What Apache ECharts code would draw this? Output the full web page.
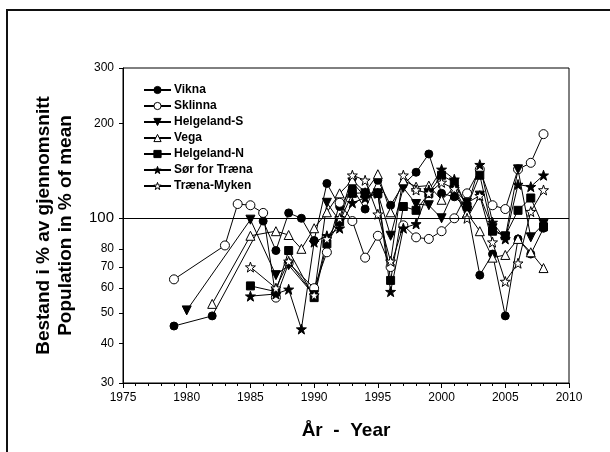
<!DOCTYPE html>
<html>
<head>
<meta charset="utf-8">
<script src="https://cdn.jsdelivr.net/npm/echarts@6/dist/echarts.min.js"></script>
<style>
  html, body { margin: 0; padding: 0; background: #fff; }
  #chart { width: 610px; height: 452px; }
</style>
</head>
<body>
<div id="chart"></div>
<script>
// Seabird colony counts, population in % of the long-term mean per colony
const viknaYears = [1979, 1982, 1986, 1987, 1988, 1989, 1990, 1991, 1992, 1993, 1994, 1995, 1996, 1997, 1998, 1999, 2000, 2001, 2002, 2003, 2004, 2005, 2006, 2007, 2008];
const viknaValues = [45.5, 49, 98, 79, 104, 100, 85, 129, 109, 125, 107, 132, 110, 128, 140, 160, 120, 117, 108, 66, 77, 49, 86, 77, 93];

const sklinnaYears = [1979, 1983, 1984, 1985, 1986, 1987, 1988, 1990, 1991, 1992, 1993, 1994, 1995, 1996, 1997, 1998, 1999, 2000, 2001, 2002, 2003, 2004, 2005, 2006, 2007, 2008];
const sklinnaValues = [64, 82, 111, 110, 104, 56, 72, 60, 78, 112, 98, 75, 88, 70, 95, 87, 86, 91, 100, 120, 143, 110, 107, 143, 150, 185];

const helgelandSYears = [1980, 1985, 1987, 1988, 1990, 1991, 1992, 1993, 1994, 1995, 1996, 1997, 1998, 1999, 2000, 2001, 2002, 2003, 2004, 2005, 2006, 2007, 2008];
const helgelandSValues = [51, 99, 66, 71, 57, 112, 98, 130, 117, 120, 88, 125, 111, 110, 100, 123, 112, 118, 93, 87, 143, 87, 96];

const vegaYears = [1982, 1985, 1987, 1988, 1989, 1990, 1991, 1992, 1993, 1994, 1995, 1996, 1997, 1998, 1999, 2000, 2001, 2002, 2003, 2004, 2005, 2006, 2007, 2008];
const vegaValues = [53.5, 88, 91, 88.5, 80, 93, 104.5, 120, 132, 121, 138, 104.5, 132, 126, 127, 114.5, 125, 104, 91, 75, 76.5, 86, 78, 69.5];

const helgelandNYears = [1985, 1987, 1988, 1990, 1991, 1992, 1993, 1994, 1995, 1996, 1997, 1998, 1999, 2000, 2001, 2002, 2003, 2004, 2005, 2006, 2007, 2008];
const helgelandNValues = [61, 58.5, 79, 56, 83, 97.5, 120, 120.5, 120, 63.5, 109, 106, 120, 137, 130, 109, 137, 91, 88, 106, 116, 94];

const sorTraenaYears = [1985, 1987, 1988, 1989, 1990, 1991, 1992, 1993, 1994, 1995, 1996, 1997, 1998, 1999, 2000, 2001, 2002, 2003, 2004, 2005, 2006, 2007, 2008];
const sorTraenaValues = [56.6, 57.5, 59.5, 44.5, 84, 88, 93, 112, 116, 120, 58.5, 93, 96, 123, 143, 133, 108, 148, 97, 86, 128, 126, 137];

const traenaMykenYears = [1985, 1987, 1988, 1990, 1991, 1992, 1993, 1994, 1995, 1996, 1997, 1998, 1999, 2000, 2001, 2002, 2003, 2004, 2005, 2006, 2007, 2008];
const traenaMykenValues = [70, 60, 73, 57, 86, 100, 137, 132, 103, 73, 137, 123, 120, 130, 124, 100, 118, 84, 63, 72, 105, 123];

const yTickValues = [30, 40, 50, 60, 70, 80, 100, 200, 300];
const referenceLevel = 100;

const starPath = 'path://M0,-10 L2.35,-3.24 L9.51,-3.09 L3.8,1.24 L5.88,8.09 L0,4 L-5.88,8.09 L-3.8,1.24 L-9.51,-3.09 L-2.35,-3.24 Z';

function pairs(years, values) {
  return years.map((y, i) => [y, values[i]]);
}

function lineSeries(name, years, values, symbol, size, filled, rotate) {
  return {
    name: name,
    type: 'line',
    data: pairs(years, values),
    symbol: symbol,
    symbolSize: size,
    symbolRotate: rotate || 0,
    showAllSymbol: true,
    lineStyle: { color: '#000', width: 1 },
    itemStyle: { color: filled ? '#000' : '#fff', borderColor: '#000', borderWidth: 1, opacity: 1 },
    emphasis: { disabled: true },
    animation: false
  };
}

const series = [
  lineSeries('Vikna', viknaYears, viknaValues, 'circle', 8, true),
  lineSeries('Sklinna', sklinnaYears, sklinnaValues, 'circle', 9, false),
  lineSeries('Helgeland-S', helgelandSYears, helgelandSValues, 'triangle', 9, true, 180),
  lineSeries('Vega', vegaYears, vegaValues, 'triangle', 9, false),
  lineSeries('Helgeland-N', helgelandNYears, helgelandNValues, 'rect', 8, true),
  lineSeries('Sør for Træna', sorTraenaYears, sorTraenaValues, starPath, 10, true),
  lineSeries('Træna-Myken', traenaMykenYears, traenaMykenValues, starPath, 10, false)
];

// horizontal reference line at the mean
series[0].markLine = {
  silent: true,
  symbol: ['none', 'none'],
  label: { show: false },
  lineStyle: { color: '#000', width: 1, type: 'solid' },
  data: [{ yAxis: referenceLevel }],
  animation: false
};

const chart = echarts.init(document.getElementById('chart'), null, { renderer: 'canvas' });

chart.setOption({
  backgroundColor: '#fff',
  animation: false,
  textStyle: { fontFamily: 'Liberation Sans, Arial, sans-serif' },
  graphic: [{
    type: 'rect',
    shape: { x: 7, y: 10, width: 700, height: 600 },
    style: { fill: 'none', stroke: '#111', lineWidth: 2 },
    silent: true,
    z: -1
  }],
  grid: {
    left: 123, right: 41, top: 68, bottom: 69,
    show: true, borderColor: '#000', borderWidth: 1, backgroundColor: 'transparent'
  },
  legend: {
    orient: 'vertical',
    left: 138, top: 78,
    itemWidth: 27, itemHeight: 9, itemGap: 2,
    textStyle: { fontSize: 12, fontWeight: 'bold', color: '#000', lineHeight: 14, padding: [0, 0, 0, -2], fontFamily: 'Liberation Sans, Arial, sans-serif' },
    data: series.map(s => ({
      name: s.name,
      itemStyle: { color: s.itemStyle.color, borderColor: '#000', borderWidth: 1 }
    }))
  },
  xAxis: {
    type: 'value',
    min: 1975, max: 2010, interval: 5,
    name: 'År  -  Year',
    nameLocation: 'middle',
    nameGap: 38,
    nameTextStyle: { fontSize: 19, fontWeight: 'bold', color: '#000' },
    axisLine: { show: true, lineStyle: { color: '#000', width: 1 } },
    axisTick: { show: true, length: 5, lineStyle: { color: '#000' } },
    minorTick: { show: true, splitNumber: 5, length: 3, lineStyle: { color: '#000' } },
    axisLabel: { fontSize: 12, color: '#000', margin: 9, formatter: v => String(v) },
    splitLine: { show: false }
  },
  yAxis: {
    type: 'log',
    logBase: 10,
    min: 30, max: 300,
    name: 'Bestand i % av gjennomsnitt\nPopulation in % of mean',
    nameLocation: 'middle',
    nameGap: 46,
    nameTextStyle: { fontSize: 19, fontWeight: 'bold', color: '#000', lineHeight: 22 },
    axisLine: { show: true, lineStyle: { color: '#000', width: 1 } },
    axisTick: { show: true, length: 4, customValues: yTickValues, lineStyle: { color: '#000' } },
    axisLabel: {
      customValues: yTickValues,
      fontSize: 12, color: '#000', margin: 9,
      formatter: v => (Math.round(v) === referenceLevel ? '{big|' + Math.round(v) + '}' : String(Math.round(v))),
      rich: { big: { fontSize: 15, color: '#000' } }
    },
    splitLine: { show: false }
  },
  series: series
});
</script>
</body>
</html>
